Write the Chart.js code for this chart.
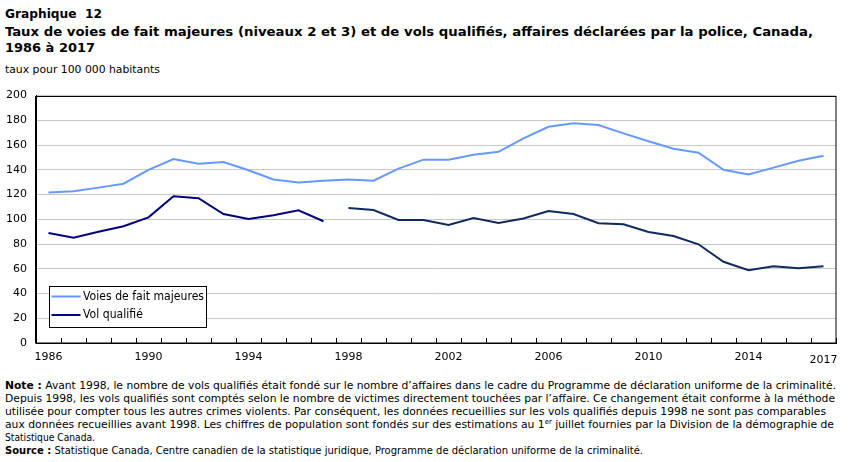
<!DOCTYPE html>
<html><head><meta charset="utf-8">
<script src="https://cdn.jsdelivr.net/npm/chart.js@4/dist/chart.umd.min.js"></script>
<style>
html,body{margin:0;padding:0;background:#fff;width:851px;height:462px;overflow:hidden;}
.t{position:absolute;left:5px;white-space:nowrap;color:#000;transform-origin:0 0;line-height:13px;}
.title{font-family:'DejaVu Sans Condensed','DejaVu Sans',sans-serif;font-stretch:condensed;font-weight:bold;font-size:13px;}
.sub{font-family:'DejaVu Sans Condensed','DejaVu Sans',sans-serif;font-stretch:condensed;font-size:11px;}
.note{font-family:'DejaVu Sans Condensed','DejaVu Sans',sans-serif;font-stretch:condensed;font-size:11px;}
.note b{font-weight:bold;}
sup{font-size:7px;line-height:0;vertical-align:4px;}
#c{position:absolute;left:0;top:80px;}
</style></head><body>
<div class="t title" data-w="97" style="top:7px">Graphique&nbsp; 12</div>
<div class="t title" data-w="808" style="top:25px">Taux de voies de fait majeures (niveaux 2 et 3) et de vols qualifiés, affaires déclarées par la police, Canada,</div>
<div class="t title" data-w="90" style="top:41px">1986 à 2017</div>
<div class="t sub" data-w="155" style="top:63px">taux pour 100 000 habitants</div>
<canvas id="c" width="851" height="290"></canvas>
<div class="t note" data-w="831" style="top:379px"><b>Note :</b> Avant 1998, le nombre de vols qualifiés était fondé sur le nombre d’affaires dans le cadre du Programme de déclaration uniforme de la criminalité.</div>
<div class="t note" data-w="830" style="top:392px">Depuis 1998, les vols qualifiés sont comptés selon le nombre de victimes directement touchées par l’affaire. Ce changement était conforme à la méthode</div>
<div class="t note" data-w="821" style="top:405px">utilisée pour compter tous les autres crimes violents. Par conséquent, les données recueillies sur les vols qualifiés depuis 1998 ne sont pas comparables</div>
<div class="t note" data-w="829" style="top:418px">aux données recueillies avant 1998. Les chiffres de population sont fondés sur des estimations au 1<sup>er</sup> juillet fournies par la Division de la démographie de</div>
<div class="t note" data-w="90" style="top:431px">Statistique Canada.</div>
<div class="t note" data-w="638" style="top:444px"><b>Source :</b> Statistique Canada, Centre canadien de la statistique juridique, Programme de déclaration uniforme de la criminalité.</div>
<script>
// ---- data ----
const years = ['1986','1987','1988','1989','1990','1991','1992','1993','1994','1995','1996','1997','1998','1999','2000','2001','2002','2003','2004','2005','2006','2007','2008','2009','2010','2011','2012','2013','2014','2015','2016','2017'];
const voiesDeFaitMajeures = [121.6,122.6,125.6,128.8,140,148.7,145,146.3,139.7,132.2,129.8,131.2,132.2,131.2,141,148.2,148.2,152.2,154.6,165.5,174.8,177.7,176.2,169.5,163.1,157,153.8,140,136.2,141.8,147.4,151.4];
const volQualifie = [88.9,85.1,90,94.4,101.6,118.7,117,104.3,100.3,103.2,107.2,98.4,109.1,107.5,99.5,99.5,95.5,101.1,97.1,100.6,106.7,104.3,96.8,96,89.7,86.5,79.8,65.7,58.8,62,60.4,62];
const tickYears = ['1986','1990','1994','1998','2002','2006','2010','2014','2017'];
const seriesNames = ['Voies de fait majeures','Vol qualifié'];
const volBreakYear = '1998'; // series break (method change)
const yMin = 0, yMax = 200, yStep = 20;

// fit text lines to measured widths
document.querySelectorAll('.t[data-w]').forEach(el => {
  const w = el.getBoundingClientRect().width;
  const target = +el.dataset.w;
  if (w > 0) el.style.transform = 'scaleX(' + (target / w) + ')';
});

const breakIdx = years.indexOf(volBreakYear);
const FONT = 'DejaVu Sans';
const AREA_TOP = 12; // desired chart-area top inside the canvas

const framePlugin = {
  id: 'frame',
  afterDatasetsDraw(chart) {
    const {ctx, chartArea: a} = chart;
    ctx.save();
    ctx.strokeStyle = '#000';
    ctx.lineWidth = 1;
    ctx.strokeRect(Math.round(a.left) - 0.5, Math.round(a.top) + 0.5, Math.round(a.right - a.left) + 0.5, Math.round(a.bottom - a.top) - 0.5);
    ctx.restore();
  }
};

const boxLegend = {
  id: 'boxLegend',
  afterDraw(chart) {
    const {ctx, chartArea: a} = chart;
    const x0 = Math.round(a.left) + 13.5, y1 = Math.round(a.bottom) - 15.5;
    const w = 157, h = 41;
    const y0 = y1 - h;
    ctx.save();
    ctx.fillStyle = '#fff';
    ctx.fillRect(x0, y0, w, h);
    ctx.strokeStyle = '#000';
    ctx.lineWidth = 1;
    ctx.strokeRect(x0, y0, w, h);
    ctx.font = '12px "' + FONT + '"';
    ctx.textBaseline = 'middle';
    ctx.fillStyle = '#000';
    const ds0 = chart.data.datasets[0];
    const k = 121 / ctx.measureText(ds0.label).width;
    chart.data.datasets.forEach((ds, i) => {
      const y = y0 + 10 + i * 18.5;
      ctx.strokeStyle = ds.legendColor;
      ctx.lineWidth = 2;
      ctx.beginPath();
      ctx.moveTo(x0 + 2, y);
      ctx.lineTo(x0 + 31, y);
      ctx.stroke();
      ctx.save();
      ctx.translate(x0 + 33.5, y);
      ctx.scale(k, 1);
      ctx.fillText(ds.label, 0, 0);
      ctx.restore();
    });
    ctx.restore();
  }
};

const chart = new Chart(document.getElementById('c'), {
  type: 'line',
  data: {
    labels: years,
    datasets: [
      {
        label: seriesNames[0],
        data: voiesDeFaitMajeures,
        borderColor: '#6699FF',
        legendColor: '#6699FF',
        borderWidth: 2,
        pointRadius: 0,
        tension: 0,
        fill: false
      },
      {
        label: seriesNames[1],
        data: volQualifie,
        borderColor: '#000080',
        legendColor: '#000080',
        borderWidth: 2,
        pointRadius: 0,
        tension: 0,
        fill: false,
        segment: {
          borderColor: ctx => ctx.p1DataIndex === breakIdx ? 'rgba(0,0,0,0)' : (ctx.p0DataIndex >= breakIdx ? '#0E2A5E' : undefined)
        }
      }
    ]
  },
  options: {
    responsive: false,
    animation: false,
    devicePixelRatio: 1,
    layout: {padding: {top: AREA_TOP, right: 15, left: 0, bottom: 0}},
    plugins: {legend: {display: false}, tooltip: {enabled: false}},
    scales: {
      x: {
        type: 'category',
        offset: true,
        grid: {offset: true, drawOnChartArea: false, drawTicks: true, tickLength: -5, tickColor: '#000', lineWidth: 1},
        border: {display: true, color: '#000'},
        ticks: {
          autoSkip: false,
          maxRotation: 0,
          minRotation: 0,
          padding: 13,
          color: '#000',
          font: ctx => ({family: FONT, size: 11, lineHeight: (ctx.tick && ctx.tick.label === '2017') ? 1.75 : 1.2}),
          callback: function (v) {
            const l = this.getLabelForValue(v);
            return tickYears.includes(l) ? l : '';
          }
        },
        afterFit(s) { s.height = 27; }
      },
      y: {
        min: yMin,
        max: yMax,
        ticks: {stepSize: yStep, padding: 9, color: '#000', font: {family: FONT, size: 11}},
        grid: {color: '#c8c8c8', drawTicks: false, lineWidth: 1},
        border: {display: true, color: '#000'},
        afterFit(s) { s.width = 36; }
      }
    }
  },
  plugins: [framePlugin, boxLegend]
});

// self-correct the chart-area top so the plot box sits where the reference has it
for (let i = 0; i < 3; i++) {
  const dy = chart.chartArea.top - AREA_TOP;
  if (Math.abs(dy) < 0.25) break;
  chart.options.layout.padding.top -= dy;
  chart.update('none');
}
</script>
</body></html>
